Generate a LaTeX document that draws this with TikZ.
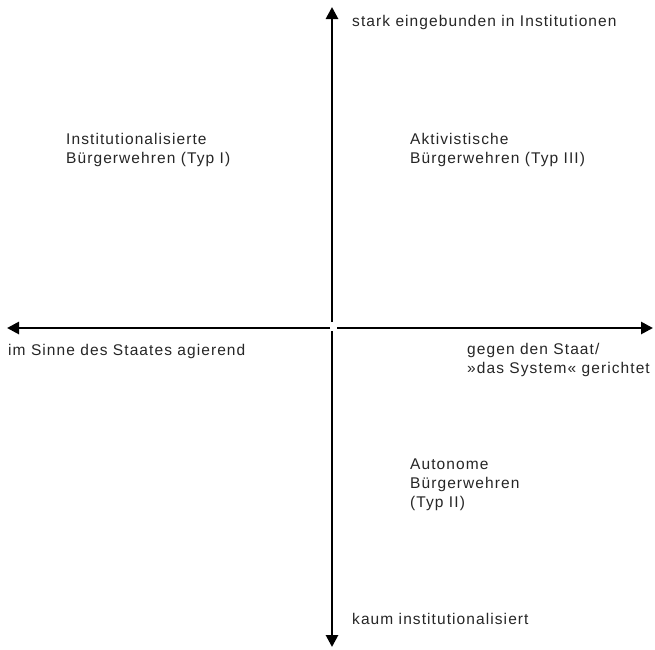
\documentclass[tikz,border=0pt]{standalone}
\usepackage{fontspec}
\setmainfont{Liberation Sans}[LetterSpace=7]
\usetikzlibrary{arrows.meta}
\begin{document}
\begin{tikzpicture}[x=1pt,y=-1pt,
  axis/.style={line width=2.7pt,-{Triangle[length=12pt,width=12pt]}},
  lbl/.style={anchor=base west,inner sep=0pt,font=\fontsize{15.5}{19}\selectfont,text=black!85,align=left}]
\useasboundingbox[fill=white] (0,0) rectangle (655,649);
\coordinate (cN) at (332,322);
\coordinate (cS) at (332,331);
\coordinate (cW) at (330,328);
\coordinate (cE) at (337,328);
\coordinate (top) at (332,7);
\coordinate (bottom) at (332,647);
\coordinate (left) at (7,328);
\coordinate (right) at (653,328);
\draw[axis] (cN) -- (top);
\draw[axis] (cS) -- (bottom);
\draw[axis] (cW) -- (left);
\draw[axis] (cE) -- (right);
\node[lbl] (ltop) at (352,26) {stark eingebunden in Institutionen};
\node[lbl] (lbottom) at (352,624) {kaum institutionalisiert};
\node[lbl] (lleft) at (8,355) {im Sinne des Staates agierend};
\node[lbl] (lright) at (467,373) {gegen den Staat/\\»das System« gerichtet};
\node[lbl] (t1) at (66,163) {Institutionalisierte\\Bürgerwehren (Typ I)};
\node[lbl] (t3) at (410,163) {Aktivistische\\Bürgerwehren (Typ III)};
\node[lbl] (t2) at (410,507) {Autonome\\Bürgerwehren\\(Typ II)};
\end{tikzpicture}
\end{document}
